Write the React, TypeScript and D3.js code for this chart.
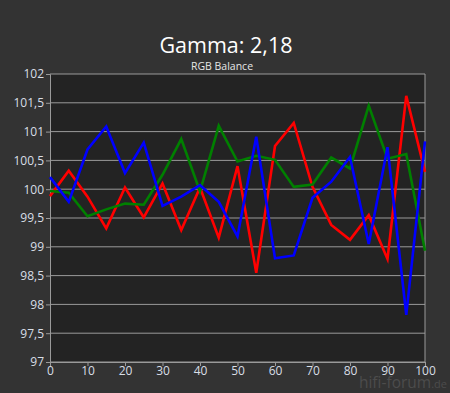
import * as React from "react";
import { useEffect, useRef } from "react";
import { select, scaleLinear, line, axisLeft, axisBottom, range } from "d3";

const xValues = range(0, 101, 5);
const redValues = [99.88, 100.32, 99.87, 99.32, 100.03, 99.51, 100.1, 99.29, 100.03, 99.16, 100.4, 98.55, 100.75, 101.15, 100.04, 99.38, 99.12, 99.55, 98.79, 101.62, 100.3];
const greenValues = [99.97, 99.94, 99.53, 99.65, 99.75, 99.73, 100.25, 100.87, 99.96, 101.1, 100.48, 100.58, 100.51, 100.04, 100.08, 100.55, 100.36, 101.45, 100.53, 100.61, 98.93];
const blueValues = [100.21, 99.78, 100.69, 101.09, 100.28, 100.81, 99.71, 99.87, 100.07, 99.78, 99.18, 100.91, 98.8, 98.85, 99.85, 100.13, 100.56, 99.05, 100.73, 97.82, 100.83];
const yTicks = range(97, 102.01, 0.5);
const xTicks = range(0, 101, 10);

const series = [
    { name: "R", color: "#ff0000", values: redValues },
    { name: "G", color: "#008000", values: greenValues },
    { name: "B", color: "#0000ff", values: blueValues },
];

const width = 450, height = 393;
const margin = { top: 74, right: 25, bottom: 31, left: 50 };
const font = "'Open Sans', 'Noto Sans', sans-serif";

const App: React.FC = () => {
    const node = useRef<SVGSVGElement>(null);

    useEffect(() => {
        const svg = select(node.current);
        svg.selectAll("*").remove();
        const w = width - margin.left - margin.right;
        const h = height - margin.top - margin.bottom;

        const x = scaleLinear().domain([0, 100]).range([0, w]);
        const y = scaleLinear().domain([97, 102]).range([h, 0]);

        svg.append("rect").attr("width", width).attr("height", height).attr("fill", "#333333");

        svg.append("text").attr("x", 226).attr("y", 53).attr("text-anchor", "middle")
            .attr("fill", "#ffffff").style("font-family", font).style("font-size", "21.5px")
            .text("Gamma: 2,18");
        svg.append("text").attr("x", 222).attr("y", 70).attr("text-anchor", "middle")
            .attr("fill", "#e6e6e6").style("font-family", font).style("font-size", "10.5px")
            .text("RGB Balance");

        const g = svg.append("g").attr("transform", `translate(${margin.left},${margin.top})`);
        g.append("rect").attr("width", w).attr("height", h).attr("fill", "#232323");

        g.selectAll(".grid").data(yTicks).enter().append("line")
            .attr("x1", 0).attr("x2", w)
            .attr("y1", d => y(d)).attr("y2", d => y(d))
            .attr("stroke", "#9a9a9a").attr("stroke-width", 1);

        g.append("line").attr("x1", w).attr("x2", w).attr("y1", 0).attr("y2", h)
            .attr("stroke", "#9a9a9a");

        const yAxis = g.append("g")
            .call(axisLeft(y).tickValues(yTicks).tickSize(4).tickPadding(2)
                .tickFormat(d => String(d).replace(".", ",")));
        const xAxis = g.append("g").attr("transform", `translate(0,${h})`)
            .call(axisBottom(x).tickValues(xTicks).tickSize(4).tickPadding(0));
        [yAxis, xAxis].forEach(a => {
            a.select(".domain").attr("stroke", "#9a9a9a");
            a.selectAll(".tick line").attr("stroke", "#9a9a9a");
            a.selectAll(".tick text").attr("fill", "#d8dee6")
                .style("font-family", font).style("font-size", "12px");
        });

        const path = line<number>().x((_, i) => x(xValues[i])).y(d => y(d));
        series.forEach(s => {
            g.append("path").datum(s.values).attr("d", path)
                .attr("fill", "none").attr("stroke", s.color)
                .attr("stroke-width", 2.6).attr("stroke-linejoin", "miter");
        });

        const wm = svg.append("text").attr("x", 447).attr("y", 388).attr("text-anchor", "end")
            .attr("fill", "#4c4c4c").style("font-family", font);
        wm.append("tspan").style("font-size", "15.5px").text("hifi-forum");
        wm.append("tspan").style("font-size", "11px").text(".de");
    }, []);

    return <svg width={width} height={height} ref={node} style={{ position: "fixed", left: 0, top: 0 }} />;
};

export default App;
